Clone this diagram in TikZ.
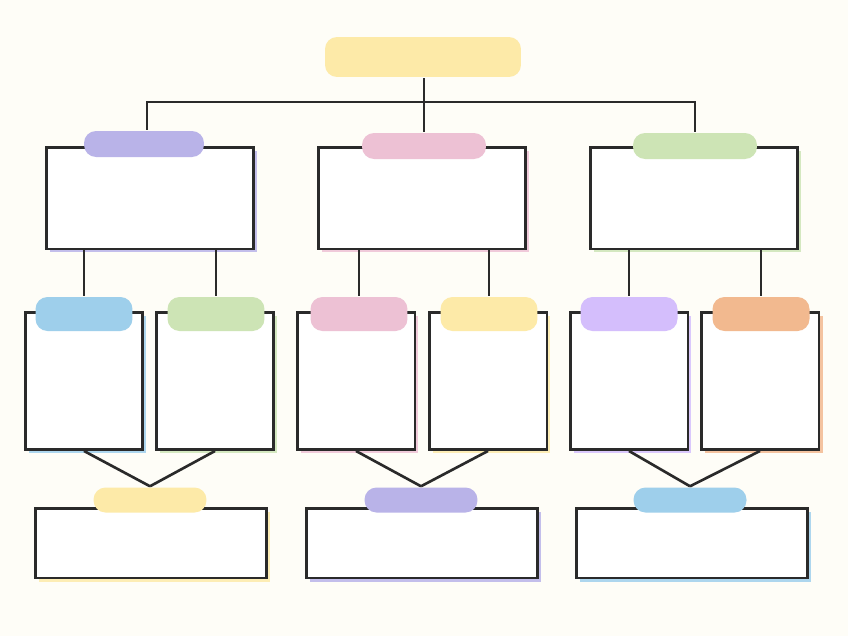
\documentclass[tikz,border=0pt]{standalone}
\usepackage{tikz}
\usetikzlibrary{shadows}

\definecolor{bgcream}{HTML}{FEFDF7}
\definecolor{ink}{HTML}{2A2A2A}
\definecolor{yellowC}{HTML}{FDEAA8}
\definecolor{purpleC}{HTML}{B9B3E8}
\definecolor{pinkC}{HTML}{EDC1D4}
\definecolor{greenC}{HTML}{CDE4B5}
\definecolor{blueC}{HTML}{9ECFEB}
\definecolor{lilacC}{HTML}{D4BEFC}
\definecolor{orangeC}{HTML}{F2B98F}

\begin{document}
\begin{tikzpicture}[x=0.02cm, y=-0.02cm, line width=1.4pt,
    card/.style={draw=ink, fill=white, inner sep=0pt, line width=1.7pt,
      drop shadow={shadow xshift=0.07cm, shadow yshift=-0.07cm, fill=#1!85, opacity=1}},
    wide/.style={card=#1, minimum width=4.14cm, minimum height=2.04cm},
    tall/.style={card=#1, minimum width=2.36cm, minimum height=2.74cm},
    flat/.style={card=#1, minimum width=4.64cm, minimum height=1.40cm},
    pill/.style={fill=#1, rounded corners=0.24cm, inner sep=0pt},
    link/.style={draw=ink, line width=1.5pt}]
        % Background
        \fill[bgcream] (0,0) rectangle (848,636);

        % Top label
        \node[pill=yellowC, minimum width=3.92cm, minimum height=0.80cm] (p0) at (423,57) {};

        % First row: boxes and their labels
        \node[wide=purpleC] (b1a) at (150,198) {};
        \node[wide=pinkC]   (b1b) at (422,198) {};
        \node[wide=greenC]  (b1c) at (694,198) {};
        \node[pill=purpleC, minimum width=2.40cm, minimum height=0.52cm] (p1a) at (144,144) {};
        \node[pill=pinkC,   minimum width=2.48cm, minimum height=0.52cm] (p1b) at (424,146) {};
        \node[pill=greenC,  minimum width=2.48cm, minimum height=0.52cm] (p1c) at (695,146) {};

        % Second row
        \node[tall=blueC]   (b2a) at (84,381) {};
        \node[tall=greenC]  (b2b) at (215,381) {};
        \node[tall=pinkC]   (b2c) at (356,381) {};
        \node[tall=yellowC] (b2d) at (488,381) {};
        \node[tall=lilacC]  (b2e) at (629,381) {};
        \node[tall=orangeC] (b2f) at (760,381) {};
        \node[pill=blueC,   minimum width=1.94cm, minimum height=0.68cm] (p2a) at (84,314) {};
        \node[pill=greenC,  minimum width=1.94cm, minimum height=0.68cm] (p2b) at (216,314) {};
        \node[pill=pinkC,   minimum width=1.94cm, minimum height=0.68cm] (p2c) at (359,314) {};
        \node[pill=yellowC, minimum width=1.94cm, minimum height=0.68cm] (p2d) at (489,314) {};
        \node[pill=lilacC,  minimum width=1.94cm, minimum height=0.68cm] (p2e) at (629,314) {};
        \node[pill=orangeC, minimum width=1.94cm, minimum height=0.68cm] (p2f) at (761,314) {};

        % Third row
        \node[flat=yellowC] (b3a) at (151,543) {};
        \node[flat=purpleC] (b3b) at (422,543) {};
        \node[flat=blueC]   (b3c) at (692,543) {};
        \node[pill=yellowC, minimum width=2.26cm, minimum height=0.50cm] (p3a) at (150,500) {};
        \node[pill=purpleC, minimum width=2.26cm, minimum height=0.50cm] (p3b) at (421,500) {};
        \node[pill=blueC,   minimum width=2.26cm, minimum height=0.50cm] (p3c) at (690,500) {};

        % Bus from the top label
        \coordinate (bus) at (424,102);
        \draw[link] (p0.south -| bus) -- (bus);
        \draw[link] (p1a.north -| 147,0) |- (bus) -| (p1c.north);
        \draw[link] (bus) -- (p1b.north);

        % First row down to second row
        \foreach \up/\low in {b1a/p2a, b1a/p2b, b1b/p2c, b1b/p2d, b1c/p2e, b1c/p2f}
          \draw[link] (\low.north) -- (\low.north |- \up.south);

        % Second row into third row
        \foreach \up/\low in {b2a/p3a, b2b/p3a, b2c/p3b, b2d/p3b, b2e/p3c, b2f/p3c}
          \draw[link] (\up.south) -- (\low.north);
\end{tikzpicture}
\end{document}
